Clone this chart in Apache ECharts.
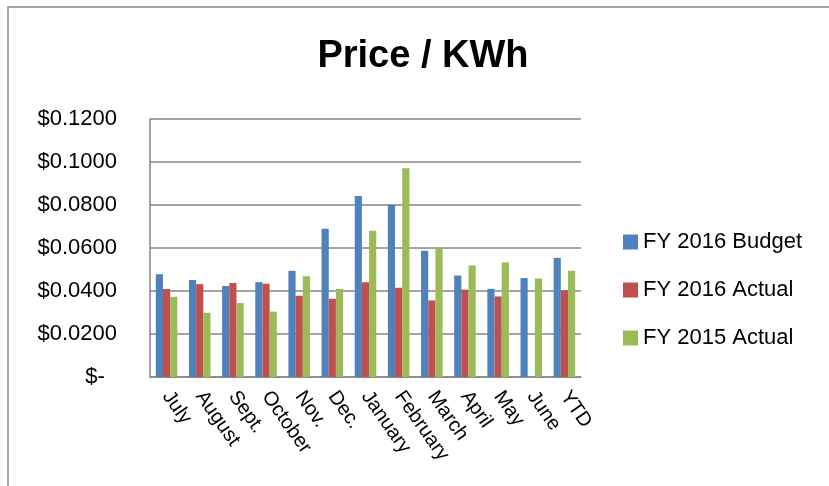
<!DOCTYPE html>
<html>
<head>
<meta charset="utf-8">
<script src="https://cdn.jsdelivr.net/npm/echarts@6/dist/echarts.min.js"></script>
<style>
html,body{margin:0;padding:0;background:#fff;}
#chart{width:829px;height:486px;}
</style>
</head>
<body>
<div id="chart"></div>
<script>
const categories = ['July','August','Sept.','October','Nov.','Dec.','January','February','March','April','May','June','YTD'];
const budget2016 = [0.0478,0.0451,0.0423,0.0441,0.0494,0.0689,0.0842,0.0801,0.0587,0.0472,0.0410,0.0460,0.0554];
const actual2016 = [0.0409,0.0432,0.0437,0.0434,0.0378,0.0364,0.0441,0.0415,0.0356,0.0406,0.0375,null,0.0404];
const actual2015 = [0.0373,0.0299,0.0344,0.0304,0.0469,0.0409,0.0680,0.0971,0.0601,0.0519,0.0533,0.0458,0.0494];
const seriesNames = ['FY 2016 Budget','FY 2016 Actual','FY 2015 Actual'];
const colors = ['#4F81BD','#C0504D','#9BBB59'];
const yTicks = [0,0.02,0.04,0.06,0.08,0.10,0.12];

const chart = echarts.init(document.getElementById('chart'));
const font = 'Liberation Sans, Arial, sans-serif';
const data = [budget2016, actual2016, actual2015];
chart.setOption({
  animation:false,
  color: colors,
  title:{
    text:'Price / KWh', left:418, top:33, textAlign:'center',
    textStyle:{fontFamily:font,fontWeight:'bold',fontSize:38,color:'#000'}
  },
  graphic:[{
    type:'rect', shape:{x:8,y:7,width:900,height:600},
    style:{fill:'none',stroke:'#8a8a8a',lineWidth:1.5}, silent:true
  }],
  legend:{
    orient:'vertical', left:618, top:226, itemWidth:15, itemHeight:15, itemGap:26,
    icon:'rect',
    textStyle:{fontFamily:font,fontSize:22,color:'#000',lineHeight:22},
    data: seriesNames
  },
  grid:{left:150,right:248,top:119,bottom:109,containLabel:false},
  xAxis:{
    type:'category', data:categories,
    axisLine:{lineStyle:{color:'#868686',width:1.5}},
    axisTick:{show:false},
    axisLabel:{rotate:-55,margin:16,fontFamily:font,fontSize:20,color:'#000',interval:0}
  },
  yAxis:{
    type:'value', min:yTicks[0], max:yTicks[yTicks.length-1], interval:0.02,
    axisLine:{show:true,lineStyle:{color:'#868686',width:1.5}},
    axisTick:{show:false},
    splitLine:{lineStyle:{color:'#868686',width:1.5}},
    axisLabel:{
      margin:33,fontFamily:font,fontSize:22,color:'#000',
      formatter:function(v){ return v===0 ? '$-  ' : '$' + v.toFixed(4); }
    }
  },
  series: seriesNames.map((n,i)=>({
    name:n, type:'bar', data:data[i],
    barGap:'0%', barCategoryGap:'35%',
    itemStyle:{color:colors[i]}
  }))
});
</script>
</body>
</html>
